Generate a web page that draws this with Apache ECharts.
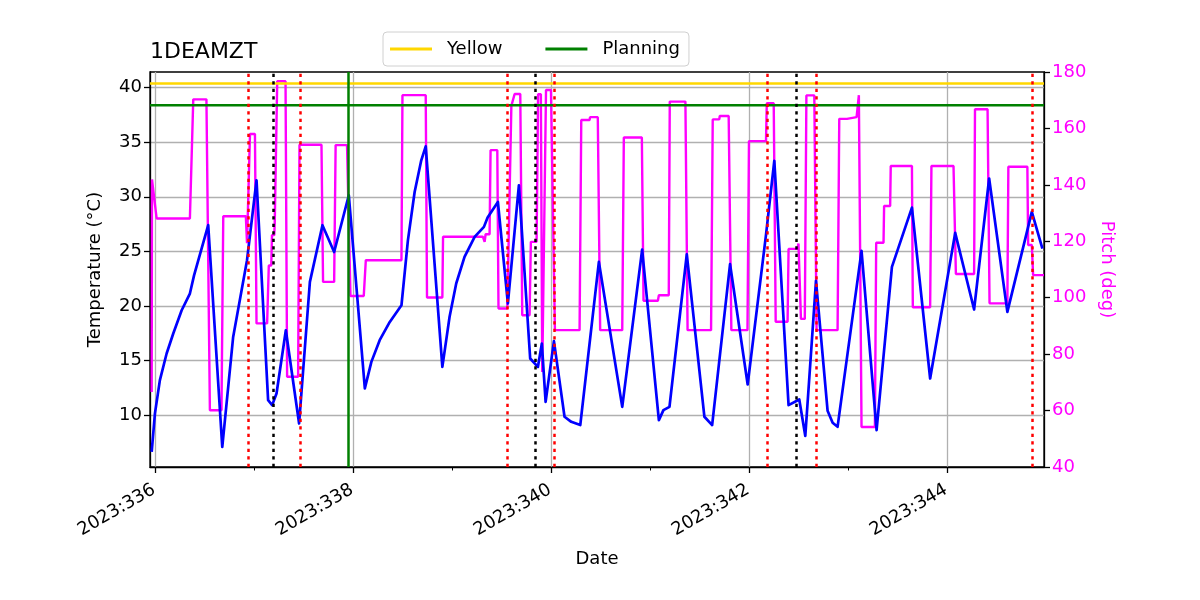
<!DOCTYPE html>
<html>
<head>
<meta charset="utf-8">
<script src="https://cdn.jsdelivr.net/npm/echarts@6/dist/echarts.min.js"></script>
<style>html,body{margin:0;padding:0;background:#fff}#c{width:1200px;height:600px}</style>
</head>
<body>
<div id="c"></div>
<script>
// ---- data (day of year 2023) ----
const tempDays = [335.967,336.000,336.05,336.118,336.185,336.27,336.353,336.395,336.538,336.68,336.79,336.93,337.026,337.143,337.184,337.228,337.322,337.456,337.565,337.692,337.81,337.958,338.12,338.186,338.27,338.372,338.49,338.555,338.623,338.69,338.735,338.903,338.976,339.043,339.127,339.229,339.323,339.36,339.464,339.565,339.676,339.79,339.868,339.908,339.946,340.03,340.137,340.205,340.296,340.484,340.72,340.921,341.09,341.136,341.197,341.372,341.55,341.628,341.809,341.987,342.172,342.256,342.4,342.508,342.569,342.677,342.794,342.845,342.895,343.137,343.289,343.444,343.646,343.83,344.083,344.274,344.426,344.61,344.857,344.964];
const tempValues = [6.63,10.15,13.2,15.64,17.47,19.6,21.13,22.8,27.4,7.09,17.16,24.19,31.51,11.37,10.91,11.98,17.77,9.23,22.2,27.39,24.94,30.14,12.44,14.87,16.86,18.53,20.06,26.0,30.44,33.34,34.62,14.41,19.0,22.05,24.49,26.32,27.24,28.1,29.52,20.22,31.05,15.18,14.41,16.55,11.21,16.77,9.84,9.38,9.08,24.03,10.75,25.16,9.53,10.45,10.75,24.73,9.84,9.08,23.82,12.8,26.5,33.3,10.91,11.43,8.08,22.3,10.4,9.3,8.92,25.04,8.62,23.57,29.01,13.35,26.69,19.67,31.67,19.45,28.61,25.25];

const pitchDays = [335.967,335.97,336.017,336.353,336.387,336.52,336.555,336.672,336.69,336.918,336.93,336.96,337.01,337.026,337.133,337.15,337.175,337.182,337.205,337.21,337.225,337.235,337.319,337.335,337.446,337.46,337.682,337.698,337.81,337.825,337.94,337.975,338.109,338.13,338.49,338.5,338.735,338.748,338.903,338.91,339.313,339.33,339.34,339.38,339.39,339.458,339.47,339.559,339.6,339.633,339.69,339.71,339.784,339.797,339.855,339.87,339.898,339.912,339.95,340.0,340.04,340.289,340.306,340.39,340.395,340.473,340.497,340.72,340.736,340.918,340.935,341.08,341.09,341.19,341.2,341.358,341.38,341.617,341.634,341.7,341.705,341.795,341.822,341.985,342.0,342.172,342.18,342.25,342.27,342.39,342.4,342.49,342.5,342.51,342.525,342.564,342.58,342.66,342.683,342.895,342.912,342.99,342.995,343.087,343.11,343.125,343.137,343.272,343.285,343.359,343.365,343.426,343.432,343.646,343.655,343.83,343.843,344.066,344.09,344.274,344.283,344.41,344.43,344.61,344.62,344.812,344.82,344.857,344.87,344.98];
const pitchValues = [66.6,141.9,128.1,128.1,170.3,170.3,60.1,60.1,128.9,128.9,119.3,158,158,90.9,90.9,111.4,111.4,122.2,122.2,126.6,126.6,176.7,176.7,72,72,154.2,154.2,105.6,105.6,154.1,154.1,100.6,100.6,113.3,113.3,171.8,171.8,100.1,100.1,121.6,121.6,119.8,122.5,122.5,152.3,152.3,96.2,96.2,168,172.2,172.2,93.8,93.8,119.8,119.8,172.1,172.1,73.7,173.6,173.6,88.5,88.5,163,163,164,164,88.5,88.5,156.8,156.8,98.9,98.9,100.9,100.9,169.5,169.5,88.5,88.5,163.2,163.2,164.4,164.4,88.5,88.5,155.5,155.5,168.9,168.9,91.5,91.5,117.3,117.3,119.2,119.2,92.5,92.5,171.7,171.7,88.5,88.5,163.4,163.4,164,164,171.8,171.8,54.2,54.2,119.5,119.5,132.5,132.5,146.7,146.7,96.6,96.6,146.7,146.7,108.4,108.4,166.8,166.8,98,98,146.4,146.4,118.7,118.7,108,108];

const yellowLimit = 40.37;
const planningLimit = 38.38;
const redEvents = [336.942,337.47,339.565,340.03,342.179,342.677,344.863];
const blackEvents = [337.194,339.841,342.475];
const greenEvents = [337.951];

const xMin = 335.95, xMax = 344.98;
const xMajorTicks = [336,338,340,342,344];
const xMinorTicks = [337,339,341,343];
const tempTicks = [10,15,20,25,30,35,40];

// ---- build ----
const pair = (xs, ys) => xs.map((x, i) => [x, ys[i]]);
const FONT = 'DejaVu Sans';
const FS = 18;
const chart = echarts.init(document.getElementById('c'), null, {renderer: 'canvas'});

function vLines(list, color, type) {
  return list.map(v => ({xAxis: v, lineStyle: {color: color, width: 2.5, type: type}}));
}

chart.setOption({
  animation: false,
  backgroundColor: '#fff',
  textStyle: {fontFamily: FONT},
  title: {
    text: '1DEAMZT', left: 145, top: 36,
    textStyle: {fontFamily: FONT, fontSize: 22, fontWeight: 'normal', color: '#000'}
  },
  legend: {
    data: [{name: 'Yellow', icon: 'rect'}, {name: 'Planning', icon: 'rect'}],
    left: 383, top: 32,
    padding: [7, 9, 7, 7],
    itemGap: 43, itemWidth: 42, itemHeight: 3,
    borderColor: '#d0d0d0', borderWidth: 1, borderRadius: 4,
    backgroundColor: 'rgba(255,255,255,0.8)',
    textStyle: {fontFamily: FONT, fontSize: FS, color: '#000', padding: [0, 0, 0, 10], lineHeight: 20}
  },
  grid: {
    left: 150, right: 156, top: 72, bottom: 133,
    show: true, borderColor: '#000', borderWidth: 1.3, backgroundColor: 'transparent'
  },
  xAxis: [{
    type: 'value', min: xMin, max: xMax,
    name: 'Date', nameLocation: 'middle', nameGap: 83,
    nameTextStyle: {fontFamily: FONT, fontSize: FS, color: '#000'},
    axisLine: {show: true, lineStyle: {color: '#000', width: 1.3}},
    axisTick: {show: true, customValues: xMajorTicks, length: 6, lineStyle: {color: '#000', width: 1.3}},
    axisLabel: {customValues: xMajorTicks, rotate: 30, fontFamily: FONT, fontSize: FS, color: '#000', margin: 21,
      padding: [0, 1, 0, 0], formatter: v => '2023:' + Math.round(v)},
    splitLine: {show: true, lineStyle: {color: '#b0b0b0', width: 1.3}}
  }, {
    type: 'value', min: xMin, max: xMax, position: 'bottom', gridIndex: 0,
    axisLine: {show: false},
    axisTick: {show: true, customValues: xMinorTicks, length: 3.5, lineStyle: {color: '#000', width: 1}},
    axisLabel: {show: false},
    splitLine: {show: false}
  }],
  yAxis: [{
    type: 'value', min: 5.24, max: 41.43, position: 'left',
    name: 'Temperature (°C)', nameLocation: 'middle', nameGap: 46, nameRotate: 90,
    nameTextStyle: {fontFamily: FONT, fontSize: FS, color: '#000'},
    axisLine: {show: true, lineStyle: {color: '#000', width: 1.3}},
    axisTick: {show: true, customValues: tempTicks, length: 6, lineStyle: {color: '#000', width: 1.3}},
    axisLabel: {customValues: tempTicks, fontFamily: FONT, fontSize: FS, color: '#000', margin: 8},
    splitLine: {show: true, lineStyle: {color: '#b0b0b0', width: 1.3}}
  }, {
    type: 'value', min: 40, max: 180, interval: 20, position: 'right',
    name: 'Pitch (deg)', nameLocation: 'middle', nameGap: 52, nameRotate: -90,
    nameTextStyle: {fontFamily: FONT, fontSize: FS, color: '#ff00ff'},
    axisLine: {show: true, lineStyle: {color: '#000', width: 1.3}},
    axisTick: {show: true, length: 6, lineStyle: {color: '#000', width: 1.3}},
    axisLabel: {fontFamily: FONT, fontSize: FS, color: '#ff00ff', margin: 8},
    splitLine: {show: false}
  }],
  series: [{
    name: 'Pitch', type: 'line', yAxisIndex: 1, xAxisIndex: 0,
    data: pair(pitchDays, pitchValues), showSymbol: false, symbol: 'none',
    lineStyle: {color: '#ff00ff', width: 2.4}, itemStyle: {color: '#ff00ff'}, z: 2, silent: true
  }, {
    name: 'Temperature', type: 'line', yAxisIndex: 0, xAxisIndex: 0,
    data: pair(tempDays, tempValues), showSymbol: false, symbol: 'none',
    lineStyle: {color: '#0000ff', width: 2.7, join: 'round'}, itemStyle: {color: '#0000ff'}, z: 3, silent: true
  }, {
    name: 'Yellow', type: 'line', yAxisIndex: 0, xAxisIndex: 0,
    data: [[xMin, yellowLimit], [xMax, yellowLimit]], showSymbol: false, symbol: 'none',
    lineStyle: {color: '#ffd700', width: 2.4}, itemStyle: {color: '#ffd700'}, z: 4, silent: true
  }, {
    name: 'Planning', type: 'line', yAxisIndex: 0, xAxisIndex: 0,
    data: [[xMin, planningLimit], [xMax, planningLimit]], showSymbol: false, symbol: 'none',
    lineStyle: {color: '#008000', width: 2.4}, itemStyle: {color: '#008000'}, z: 4, silent: true
  }, {
    name: 'events', type: 'line', yAxisIndex: 0, xAxisIndex: 0, data: [], silent: true, z: 5,
    markLine: {
      silent: true, symbol: 'none', label: {show: false}, animation: false,
      data: [].concat(vLines(redEvents, '#ff0000', [3.3, 4.2]), vLines(blackEvents, '#000000', [3.3, 4.2]), vLines(greenEvents, '#008000', 'solid'))
    }
  }]
});
</script>
</body>
</html>
